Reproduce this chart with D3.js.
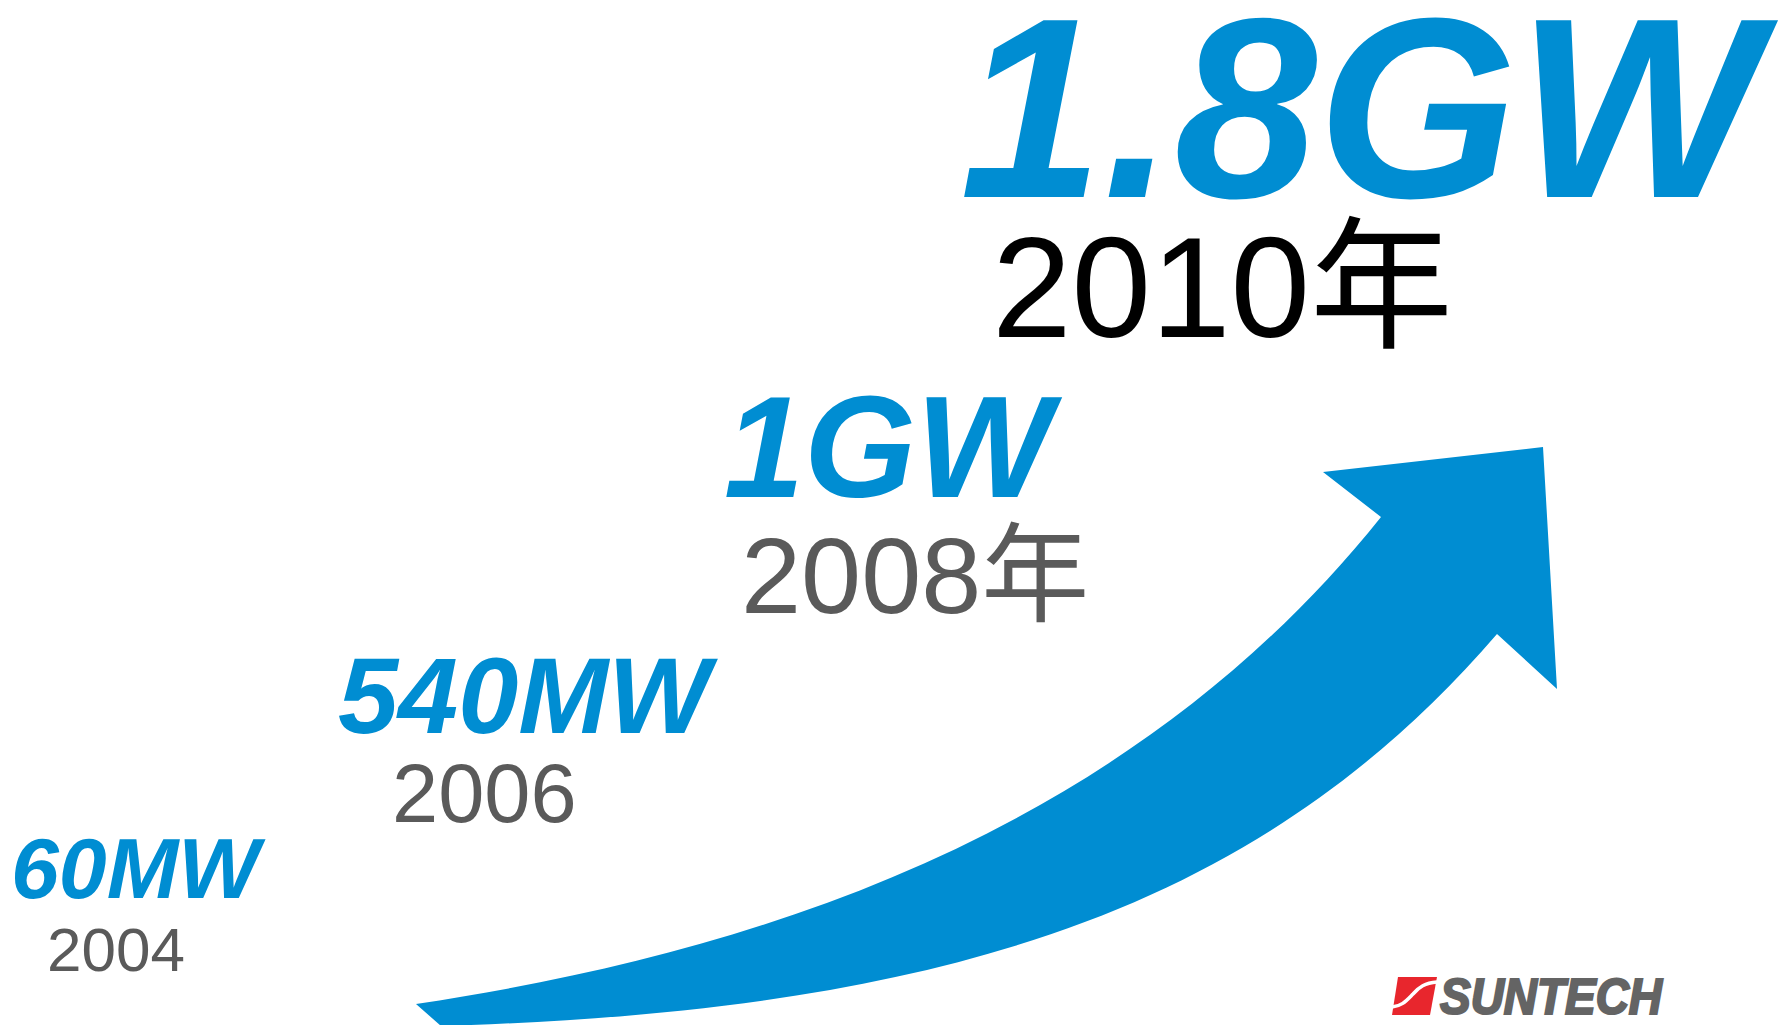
<!DOCTYPE html>
<html>
<head>
<meta charset="utf-8">
<script src="https://cdn.jsdelivr.net/npm/d3@7"></script>
<style>
  html, body { margin: 0; padding: 0; background: #ffffff; }
  svg { display: block; }
</style>
</head>
<body>
<svg id="chart" width="1780" height="1025"></svg>
<script>
// Suntech production capacity growth, 2004–2010
const years = ["2004", "2006", "2008年", "2010年"];
const capacityLabels = ["60MW", "540MW", "1GW", "1.8GW"];
const capacityMW = [60, 540, 1000, 1800];

const W = 1780, H = 1025;
const BLUE = "#008dd2";
const GREY = "#5a5a5a";
const LATIN = "'Liberation Sans', Arial, Helvetica, sans-serif";
const CJK = "'Liberation Sans', Arial, 'Noto Sans CJK SC', sans-serif";

const svg = d3.select("#chart");
svg.append("rect").attr("width", W).attr("height", H).attr("fill", "#fff");

// Staircase layout: each milestone's capacity drives its label size and position
const labelX = d3.scaleLinear().domain(capacityMW).range([11, 338, 724, 960]);
const labelY = d3.scaleLinear().domain(capacityMW).range([898, 733, 497, 197]);
const labelSize = d3.scaleLinear().domain(capacityMW).range([86, 108, 144, 257]);
const yearX = d3.scaleLinear().domain(capacityMW).range([47, 392, 741, 992]);
const yearY = d3.scaleLinear().domain(capacityMW).range([971, 822, 613, 337]);
const yearSize = d3.scaleLinear().domain(capacityMW).range([62, 83, 108, 143]);

// Growth arrow: two smooth edges joined by a broad head pointing up-right
const tailTop = [416, 1004], neckTop = [1381, 517];
const tailBottom = [441, 1026];
const arrowHead = [[1323, 472], [1543, 447], [1557, 689], [1497, 634]];

const p = d3.path();
p.moveTo(...tailTop);
p.bezierCurveTo(766, 951.5, 1131, 829.5, ...neckTop);
arrowHead.forEach(pt => p.lineTo(...pt));
p.bezierCurveTo(1257, 912.4, 941, 1011, ...tailBottom);
p.closePath();
svg.append("path").attr("d", p.toString()).attr("fill", BLUE);

// Capacity labels
const milestones = capacityMW.map((v, i) => ({ value: v, label: capacityLabels[i], year: years[i], i }));

svg.append("g").selectAll("text.cap")
  .data(milestones)
  .join("text")
  .attr("class", "cap")
  .attr("x", d => labelX(d.value))
  .attr("y", d => labelY(d.value))
  .attr("font-family", LATIN)
  .attr("font-weight", "bold")
  .attr("font-style", "italic")
  .attr("font-size", d => labelSize(d.value))
  .attr("fill", BLUE)
  .text(d => d.label);

// Year labels
svg.append("g").selectAll("text.year")
  .data(milestones)
  .join("text")
  .attr("class", "year")
  .attr("x", d => yearX(d.value))
  .attr("y", d => yearY(d.value))
  .attr("font-family", CJK)
  .attr("font-size", d => yearSize(d.value))
  .attr("fill", d => d.i === milestones.length - 1 ? "#000" : GREY)
  .text(d => d.year);

// Company mark
const logo = svg.append("g").attr("class", "logo");
logo.append("path")
  .attr("d", "M1398,977L1437,977L1430,1015L1392,1015Z")
  .attr("fill", "#e8262d");
logo.append("path")
  .attr("d", "M1392,1007C1402,1006 1406,1001 1413,994C1419,987 1425,983 1437,982")
  .attr("fill", "none")
  .attr("stroke", "#fff")
  .attr("stroke-width", 3.5);
logo.append("text")
  .attr("x", 1440)
  .attr("y", 1014)
  .attr("font-family", LATIN)
  .attr("font-weight", "bold")
  .attr("font-style", "italic")
  .attr("font-size", 50)
  .attr("textLength", 222)
  .attr("lengthAdjust", "spacingAndGlyphs")
  .attr("fill", "#646464")
  .attr("stroke", "#646464")
  .attr("stroke-width", 2.2)
  .text("SUNTECH");
</script>
</body>
</html>
